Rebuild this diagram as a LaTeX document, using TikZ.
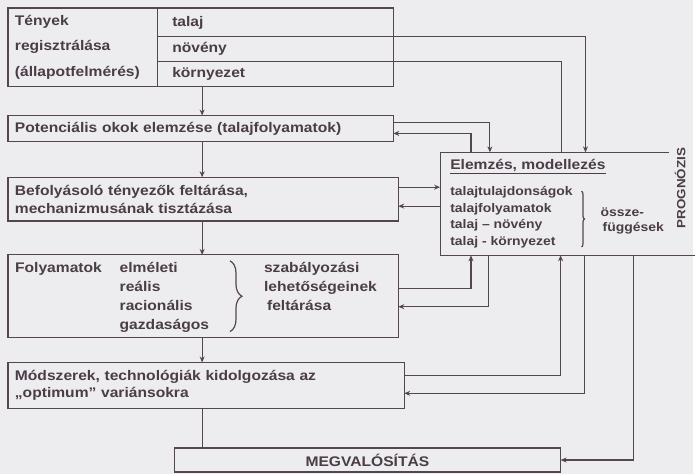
\documentclass[tikz,border=0pt]{standalone}
\usepackage{fontspec}
\setmainfont{Liberation Sans}[FakeStretch=1.12]
\usetikzlibrary{arrows.meta,decorations.pathreplacing}
\definecolor{vonal}{HTML}{54454F}
\definecolor{szoveg}{HTML}{4A3D46}
\definecolor{hatter}{HTML}{EDEDF0}
\tikzset{
  vezet/.style={draw=vonal, line width=1.2pt},
  nyil/.style={vezet, -{Stealth[length=6pt,width=5pt]}},
  doboz/.style={draw=vonal, line width=1.2pt, anchor=north west, align=left,
    inner xsep=7pt, inner ysep=0pt, outer sep=0pt},
  sor/.style={doboz, inner xsep=15pt, text width=207pt, minimum width=237pt},
}
\begin{document}
\begin{tikzpicture}[x=1pt, y=-1pt, text=szoveg,
    font=\fontsize{14}{18}\selectfont\bfseries]
  \fill[hatter] (0,0) rectangle (696,476);
  \coordinate (tengely) at (203,0);
  % dobozok
  \node[doboz, text width=136pt, minimum height=79pt,
    font=\fontsize{14}{26}\selectfont\bfseries] (reg) at (8,8)
    {Tények\\regisztrálása\\(állapotfelmérés)};
  \node[sor, minimum height=29pt] (talaj) at (158,8) {talaj};
  \node[sor, minimum height=25pt] (noveny) at (158,37) {növény};
  \node[sor, minimum height=25pt] (kornyezet) at (158,62) {környezet};
  \node[doboz, text width=373pt, minimum height=26pt] (pot) at (8,116)
    {Potenciális okok elemzése (talajfolyamatok)};
  \node[doboz, text width=378pt, minimum height=44pt] (bef) at (8,178)
    {Befolyásoló tényezők feltárása,\\mechanizmusának tisztázása};
  \node[doboz, text width=378pt, minimum height=83pt] (foly) at (8,256) {};
  \node[doboz, text width=384pt, minimum height=46pt] (mod) at (8,364)
    {Módszerek, technológiák kidolgozása az\\„optimum” variánsokra};
  \node[doboz, align=center, text width=374pt, minimum height=24pt] (megv) at (175,450)
    {MEGVALÓSÍTÁS};
  \node[anchor=north west, minimum width=256pt, minimum height=103pt,
    inner sep=0pt] (elem) at (442,153) {};
  \draw[vezet] ([xshift=230pt]elem.north west) -- (elem.north west)
    -- (elem.south west) -- (elem.south east);

  % folyamatok
  \node[anchor=west, inner sep=0pt] (fcim) at (15,270) {Folyamatok};
  \node[anchor=north west, align=left, inner sep=0pt,
    font=\fontsize{14}{19}\selectfont\bfseries] (fmod) at (120,263)
    {elméleti\\reális\\racionális\\gazdaságos};
  \draw[vezet, decorate, decoration={brace, amplitude=12pt}] (231,262) -- (231,333);
  \node[anchor=north west, align=left, inner sep=0pt,
    font=\fontsize{14}{19}\selectfont\bfseries] (fcel) at (265,263)
    {szabályozási\\lehetőségeinek\\\hspace*{3pt}feltárása};

  % elemzes
  \node[anchor=west, inner sep=0pt] (ecim) at (452,167) {\underline{Elemzés, modellezés}};
  \node[anchor=north west, align=left, inner sep=0pt,
    font=\fontsize{12.5}{16.7}\selectfont\bfseries] (elista) at (452,187)
    {talajtulajdonságok\\talajfolyamatok\\talaj – növény\\talaj - környezet};
  \draw[vezet, decorate, decoration={brace, amplitude=3pt}] (584,192) -- (584,248);
  \node[anchor=west, inner sep=0pt, font=\fontsize{12.5}{16}\selectfont\bfseries] (ossze) at (603,213) {össze-};
  \node[anchor=west, inner sep=0pt, font=\fontsize{12.5}{16}\selectfont\bfseries] (fugg) at (605,229) {függések};
  \node[rotate=90, inner sep=0pt, font=\fontsize{12}{14}\selectfont\bfseries] (progn) at (683,189) {PROGNÓZIS};

  % nyilak
  \draw[nyil] (reg.south -| tengely) -- (pot.north -| tengely);
  \draw[nyil] (pot.south -| tengely) -- (bef.north -| tengely);
  \draw[nyil] (bef.south -| tengely) -- (foly.north -| tengely);
  \draw[nyil] (foly.south -| tengely) -- (mod.north -| tengely);
  \draw[vezet] (mod.south -| tengely) -- (megv.north -| tengely);

  \draw[nyil] (talaj.south east) -| ([xshift=146pt]elem.north west);
  \draw[vezet] (noveny.south east) -| ([xshift=122pt]elem.north west);
  \coordinate (p1) at ([yshift=-7pt]pot.north east);
  \coordinate (p2) at ([yshift=8pt]pot.south east);
  \draw[nyil] (p1) -| ([xshift=50pt]elem.north west);
  \draw[nyil] ([xshift=31pt]elem.north west) |- (p2);
  \coordinate (b1) at ([yshift=-10pt]bef.north east);
  \coordinate (b2) at ([yshift=15pt]bef.south east);
  \draw[nyil] (b1) -- (b1 -| elem.west);
  \draw[nyil] (b2 -| elem.west) -- (b2);
  \coordinate (f1) at ([yshift=-34pt]foly.north east);
  \coordinate (f2) at ([yshift=-52pt]foly.north east);
  \draw[nyil] (f1) -| ([xshift=31pt]elem.south west);
  \draw[nyil] ([xshift=49pt]elem.south west) |- (f2);
  \coordinate (m1) at ([yshift=-13pt]mod.north east);
  \coordinate (m2) at ([yshift=-31pt]mod.north east);
  \draw[nyil] (m1) -| ([xshift=121pt]elem.south west);
  \draw[nyil] ([xshift=145pt]elem.south west) |- (m2);
  \draw[nyil] ([xshift=194pt]elem.south west) |- (megv.east);
\end{tikzpicture}
\end{document}
